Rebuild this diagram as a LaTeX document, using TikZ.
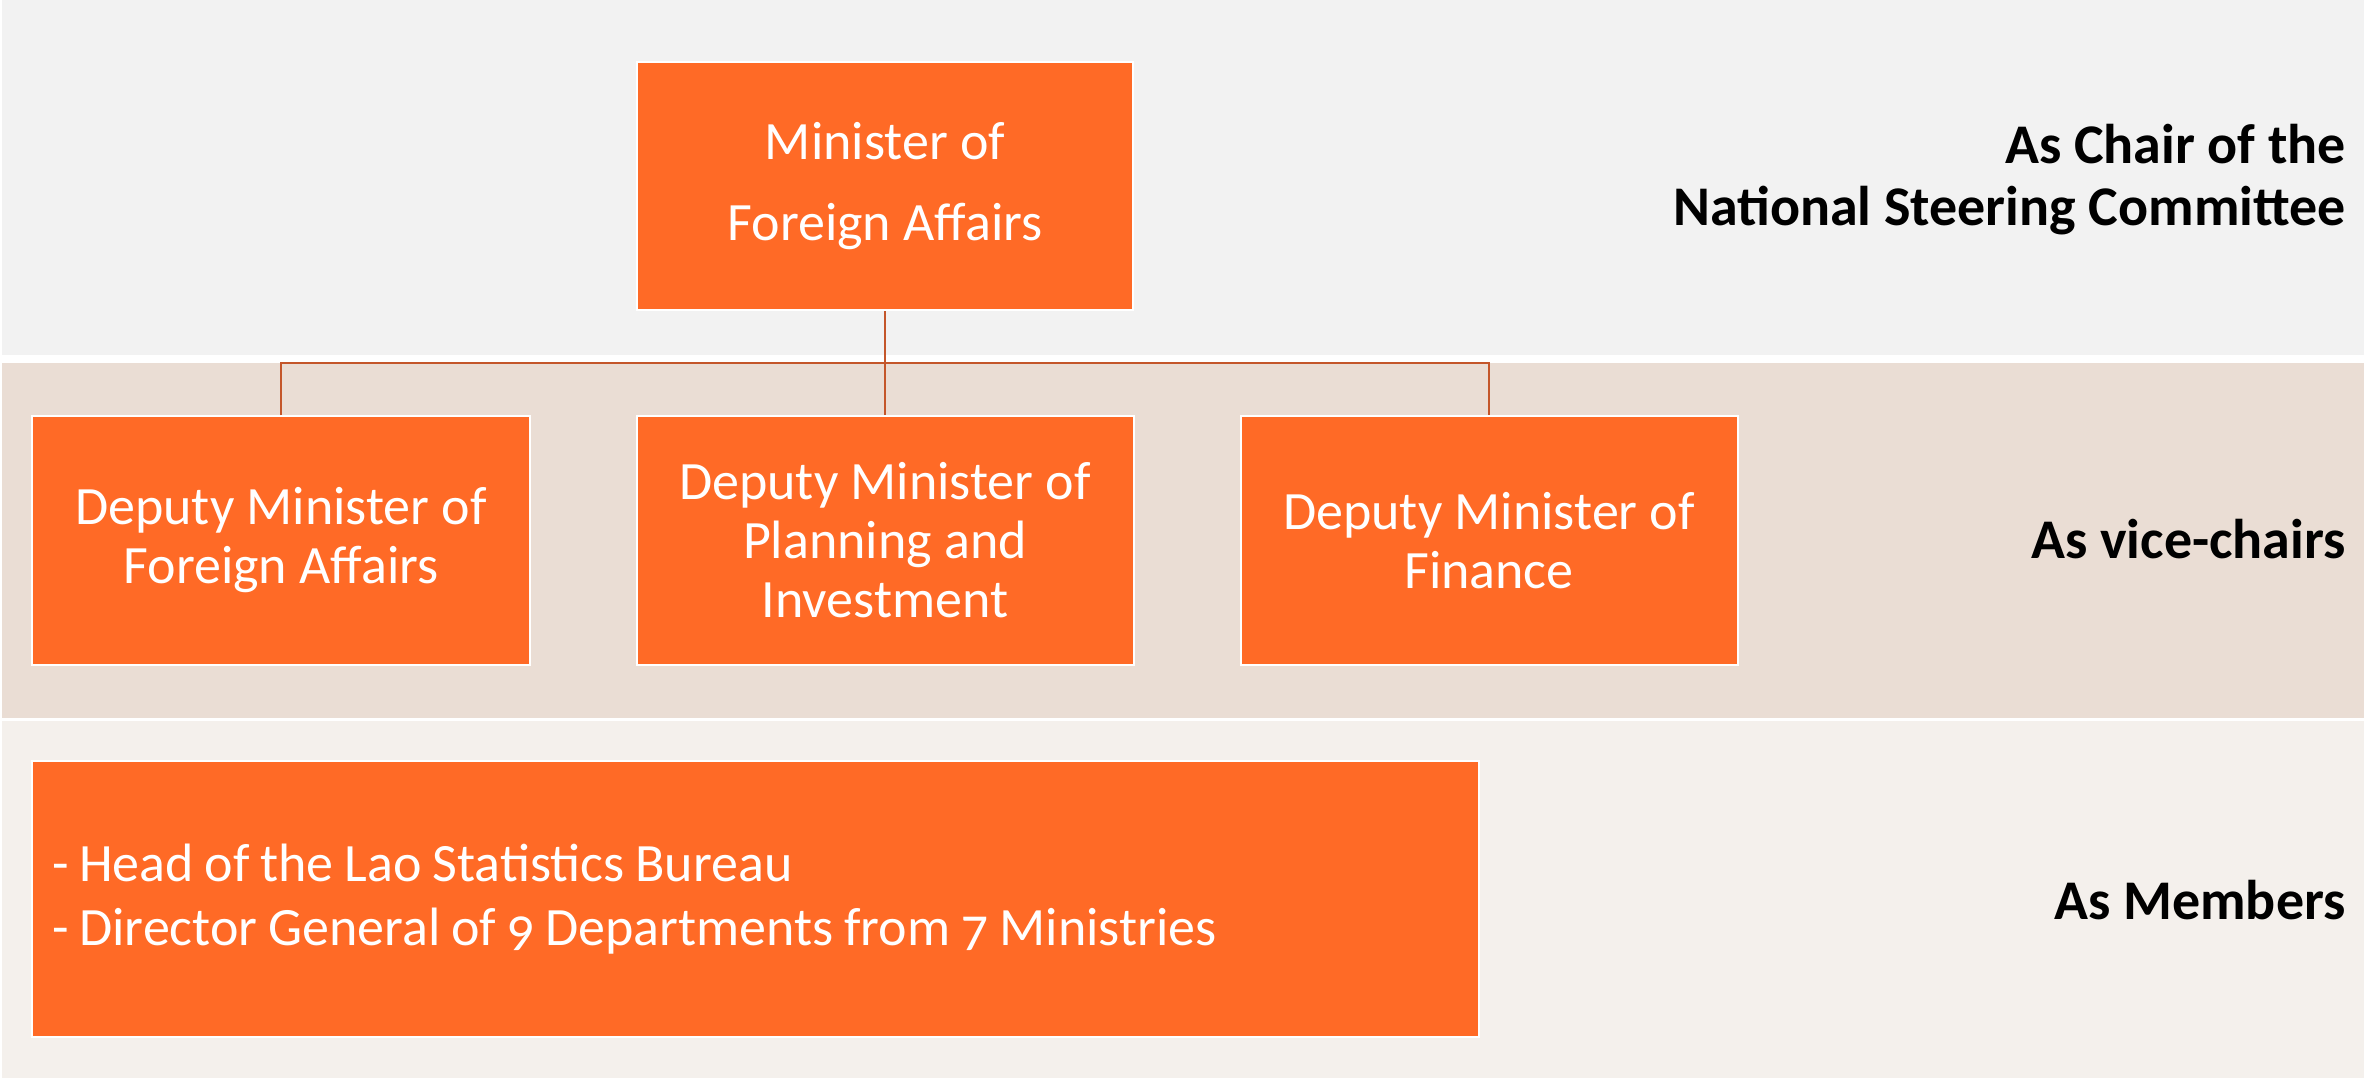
\documentclass[tikz,border=0pt]{standalone}
\usepackage{fontspec}
\setmainfont{Carlito}[Numbers=OldStyle]
\definecolor{bandA}{HTML}{F2F2F2}
\definecolor{bandB}{HTML}{EADDD4}
\definecolor{bandC}{HTML}{F4F0EC}
\definecolor{boxorange}{HTML}{FF6A26}
\definecolor{connline}{HTML}{C4562A}
\newcommand\mytightspaces{\spaceskip=0.2em plus 0.02em\relax}
\tikzset{
  orgbox/.style={draw=white, line width=2pt, fill=boxorange, text=white,
    inner sep=0pt, align=center, font=\fontsize{54}{59}\selectfont},
  rolelabel/.style={font=\fontsize{56}{62}\selectfont\bfseries, text=black,
    inner sep=0pt, align=right},
  conn/.style={draw=connline, line width=2.8pt}
}
\begin{document}
\begin{tikzpicture}[x=1pt,y=-1pt]
\useasboundingbox (0,0) rectangle (2364,1078);
\fill[white] (0,0) rectangle (2364,1078);
\fill[bandA] (2,0) rectangle (2364,355);
\fill[bandB] (2,363) rectangle (2364,718);
\fill[bandC] (2,721) rectangle (2364,1078);

\node[orgbox, minimum width=496pt, minimum height=248pt,
  font=\fontsize{54}{81}\selectfont] (min) at (885,186) {Minister of\\Foreign Affairs};
\node[orgbox, minimum width=498pt, minimum height=249pt] (dfa) at (281,540.5) {Deputy Minister of\\Foreign Affairs};
\node[orgbox, minimum width=497pt, minimum height=249pt] (dpi) at (885,540.5) {Deputy Minister of\\Planning and\\Investment};
\node[orgbox, minimum width=497pt, minimum height=249pt] (dfi) at (1489,540.5) {Deputy Minister of\\Finance};
\node[orgbox, minimum width=1447pt, minimum height=276pt, align=left,
  text width=1407pt, inner xsep=20pt,
  font=\fontsize{54}{64}\selectfont] (mem) at (755.5,899)
  {\mytightspaces - Head of the Lao Statistics Bureau\\- Director General of 9 Departments from 7 Ministries};

\coordinate (j) at (885,363);
\draw[conn] (min.south) -- (j);
\draw[conn] (j) -- (dpi.north);
\draw[conn] (dfa.north) |- (j) -| (dfi.north);

\node[rolelabel, anchor=east] (lchair) at (2346,180) {As Chair of the\\National Steering Committee};
\node[rolelabel, anchor=base east] (lvice) at (2346,558) {As vice-chairs};
\node[rolelabel, anchor=base east] (lmem) at (2346,919) {As Members};
\end{tikzpicture}
\end{document}
